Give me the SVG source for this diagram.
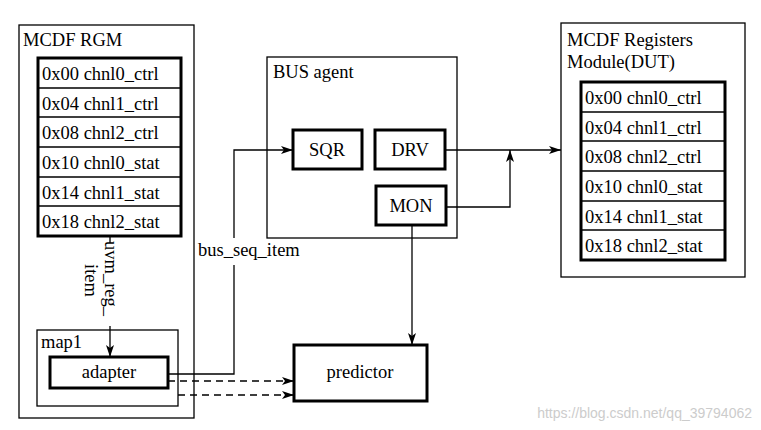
<svg xmlns="http://www.w3.org/2000/svg" width="761" height="430" viewBox="0 0 761 430">
<style>
text{font-family:"Liberation Serif","Times New Roman",Tinos,"DejaVu Serif",serif;font-size:18.5px;fill:#000}
.thin{fill:none;stroke:#000;stroke-width:1.3}
.thick{fill:#fff;stroke:#000;stroke-width:3}
.ln{fill:none;stroke:#000;stroke-width:1.3}
.ds{fill:none;stroke:#000;stroke-width:1.3;stroke-dasharray:7,5}
</style>
<defs><marker id="a" markerWidth="12" markerHeight="8" refX="12" refY="4" orient="auto" markerUnits="userSpaceOnUse"><path d="M0,0L12,4L0,8L3,4z" fill="#000"/></marker></defs>
<rect width="761" height="430" fill="#fff"/>
<g id="rgm">
<rect class="thin" x="19" y="25" width="175" height="393"/>
<text x="23" y="46">MCDF RGM</text>
<rect class="thick" x="38" y="58" width="143" height="178"/>
<path class="ln" d="M38,88H181M38,117H181M38,147H181M38,177H181M38,206H181" stroke-width="2"/>
<text x="42" y="80">0x00 chnl0_ctrl</text>
<text x="42" y="110">0x04 chnl1_ctrl</text>
<text x="42" y="139">0x08 chnl2_ctrl</text>
<text x="42" y="169">0x10 chnl0_stat</text>
<text x="42" y="199">0x14 chnl1_stat</text>
<text x="42" y="228">0x18 chnl2_stat</text>
</g>
<g id="map1">
<rect class="thin" x="37" y="330" width="141" height="76"/>
<text x="41" y="348">map1</text>
</g>
<g id="adapter"><rect class="thick" x="50" y="357" width="118" height="31"/><text x="109" y="378" text-anchor="middle">adapter</text></g>
<g id="busagent"><rect class="thin" x="267" y="57" width="190" height="181"/><text x="273" y="78">BUS agent</text></g>
<g id="sqr"><rect class="thick" x="293" y="130" width="69" height="39"/><text x="327" y="156" text-anchor="middle">SQR</text></g>
<g id="drv"><rect class="thick" x="375" y="130" width="70" height="39"/><text x="410" y="156" text-anchor="middle">DRV</text></g>
<g id="mon"><rect class="thick" x="376" y="186" width="70" height="39"/><text x="411" y="212" text-anchor="middle">MON</text></g>
<g id="predictor"><rect class="thick" x="294" y="345" width="133" height="56"/><text x="360" y="378" text-anchor="middle">predictor</text></g>
<g id="dut">
<rect class="thin" x="561" y="23" width="184" height="254"/>
<text x="567" y="46">MCDF Registers</text>
<text x="567" y="68">Module(DUT)</text>
<rect class="thick" x="581" y="82" width="144" height="178"/>
<path class="ln" d="M581,112H725M581,141H725M581,171H725M581,201H725M581,230H725" stroke-width="2"/>
<text x="585" y="104">0x00 chnl0_ctrl</text>
<text x="585" y="134">0x04 chnl1_ctrl</text>
<text x="585" y="163">0x08 chnl2_ctrl</text>
<text x="585" y="193">0x10 chnl0_stat</text>
<text x="585" y="223">0x14 chnl1_stat</text>
<text x="585" y="252">0x18 chnl2_stat</text>
</g>
<g id="connectors">
<path class="ln" d="M110,236V243M110,326V357" marker-end="url(#a)"/>
<text transform="translate(105,241) rotate(90)">uvm_reg_</text>
<text transform="translate(85,264) rotate(90)">item</text>
<path class="ln" d="M168,374H234V265M234,238V150H293" marker-end="url(#a)"/>
<text x="198" y="256">bus_seq_item</text>
<path class="ds" d="M168,381H294" marker-end="url(#a)"/>
<path class="ds" d="M178,395H294" marker-end="url(#a)"/>
<path class="ln" d="M445,150H561" marker-end="url(#a)"/>
<path class="ln" d="M446,207H510V150" marker-end="url(#a)"/>
<path class="ln" d="M412,225V345" marker-end="url(#a)"/>
</g>
<text x="752" y="418" text-anchor="end" style="font-family:'Liberation Sans',sans-serif;font-size:14px;fill:#ccc">https://blog.csdn.net/qq_39794062</text>
</svg>
